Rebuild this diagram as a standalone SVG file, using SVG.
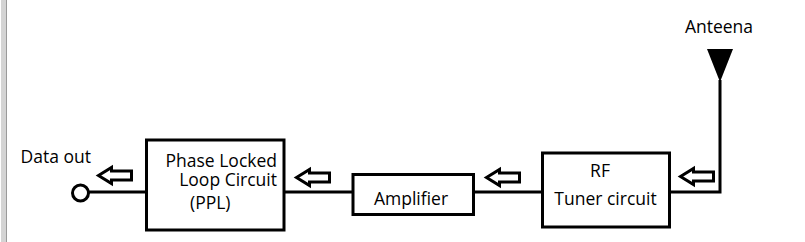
<svg xmlns="http://www.w3.org/2000/svg" xmlns:xlink="http://www.w3.org/1999/xlink" width="805" height="242" viewBox="0 0 805 242">
<style>
.box{fill:#fff;stroke:#000;stroke-width:3}
.wire{fill:none;stroke:#000;stroke-width:3}
.lbl{font-family:"Open Sans","Liberation Sans",sans-serif;font-size:17.5px;fill:#000}
.mid{text-anchor:middle}
.end{text-anchor:end}
</style>
<defs>
<path id="harrow" d="M0,0 L13,-8 L13,-4.5 L33,-4.5 L33,4.5 L13,4.5 L13,8 Z" fill="#fff" stroke="#000" stroke-width="3" stroke-linejoin="miter"/>
</defs>
<rect width="805" height="242" fill="#fff"/>
<rect x="1" y="0" width="5" height="242" fill="#d4d4d4"/>
<line x1="6.5" y1="0" x2="6.5" y2="242" stroke="#9a9a9a" stroke-width="1"/>

<g id="connectors">
<line class="wire" x1="89" y1="192" x2="146.5" y2="192"/>
<line class="wire" x1="284" y1="192" x2="353" y2="192"/>
<line class="wire" x1="473.5" y1="192" x2="542.5" y2="192"/>
<polyline class="wire" points="669.5,192 720,192 720,80"/>
<use xlink:href="#harrow" x="98.5" y="175.5"/>
<use xlink:href="#harrow" x="296.5" y="177.5"/>
<use xlink:href="#harrow" x="486.5" y="177.5"/>
<use xlink:href="#harrow" x="680.5" y="176.5"/>
</g>

<g id="data-out">
<circle cx="80.5" cy="193" r="8" fill="#fff" stroke="#000" stroke-width="3"/>
<text class="lbl" x="20.5" y="163">Data out</text>
</g>

<g id="pll">
<rect class="box" x="146.5" y="140" width="137.5" height="90"/>
<text class="lbl end" x="277" y="166.5">Phase Locked</text>
<text class="lbl end" x="277" y="185.5">Loop Circuit</text>
<text class="lbl" x="190" y="209">(PPL)</text>
</g>

<g id="amplifier">
<rect class="box" x="353" y="174.5" width="120.5" height="40"/>
<text class="lbl mid" x="411" y="205">Amplifier</text>
</g>

<g id="rf-tuner">
<rect class="box" x="542.5" y="153" width="127" height="74"/>
<text class="lbl mid" x="600" y="176.5">RF</text>
<text class="lbl mid" x="605.5" y="205">Tuner circuit</text>
</g>

<g id="antenna">
<polygon points="707,49 733,49 720,82" fill="#000"/>
<text class="lbl mid" x="719" y="33">Anteena</text>
</g>
</svg>
